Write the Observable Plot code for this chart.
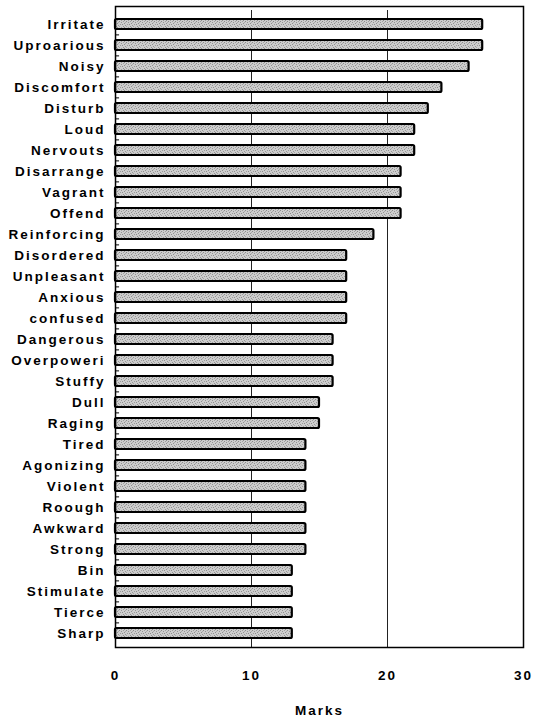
<!DOCTYPE html>
<html>
<head>
<meta charset="utf-8">
<script src="https://cdn.jsdelivr.net/npm/d3@7"></script>
<script src="https://cdn.jsdelivr.net/npm/@observablehq/plot@0.6"></script>
<style>
  html, body { margin: 0; padding: 0; background: #fff; }
  #chart svg { display: block; }
</style>
</head>
<body>
<div id="chart"></div>
<script>
const categories = ["Irritate","Uproarious","Noisy","Discomfort","Disturb","Loud","Nervouts","Disarrange","Vagrant","Offend","Reinforcing","Disordered","Unpleasant","Anxious","confused","Dangerous","Overpoweri","Stuffy","Dull","Raging","Tired","Agonizing","Violent","Roough","Awkward","Strong","Bin","Stimulate","Tierce","Sharp"];
const marks = [27,27,26,24,23,22,22,21,21,21,19,17,17,17,17,16,16,16,15,15,14,14,14,14,14,14,13,13,13,13];
const xTicks = [0,10,20,30];
const gridValues = [10,20];

const data = categories.map((c, i) => ({category: c, marks: marks[i]}));

const W = 533, H = 718, mTop = 10, mBottom = 71, mLeft = 115, mRight = 10;
const step = (H - mTop - mBottom) / categories.length;

const chart = Plot.plot({
  width: W,
  height: H,
  marginTop: mTop,
  marginBottom: mBottom,
  marginLeft: mLeft,
  marginRight: mRight,
  style: {fontFamily: "'Liberation Sans', Arial, sans-serif", fontSize: "13.5px", fontWeight: "bold", color: "#000", background: "#fff"},
  x: {domain: [0, 30], ticks: xTicks, tickSize: 0, tickPadding: 23, label: "Marks", labelAnchor: "center", labelOffset: 67, labelArrow: "none"},
  y: {domain: categories, paddingInner: 0.53, paddingOuter: 0.265, tickSize: 0, tickPadding: 10, label: null},
  marks: [
    Plot.ruleX(gridValues, {stroke: "#222", strokeWidth: 1}),
    Plot.ruleY(categories.slice(1), {y: d => d, x1: 0, x2: 0.3, dy: -step / 2, stroke: "#000", strokeWidth: 1}),
    Plot.barX(data, {y: "category", x: "marks", fill: "url(#stipple)", stroke: "#000", strokeWidth: 2.2, rx: 1.5}),
    Plot.frame({stroke: "#000", strokeWidth: 1.5, insetTop: -4})
  ]
});

// stippled grey fill used by the bars
const defs = document.createElementNS("http://www.w3.org/2000/svg", "defs");
defs.innerHTML = `<pattern id="stipple" width="7" height="7" patternUnits="userSpaceOnUse">
  <rect width="7" height="7" fill="#cdcdcd"/>
  <rect x="0" y="0" width="1" height="1" fill="#8c8c8c"/>
  <rect x="4" y="0" width="1" height="1" fill="#a0a0a0"/>
  <rect x="2" y="1" width="1" height="1" fill="#949494"/>
  <rect x="6" y="1" width="1" height="1" fill="#aaaaaa"/>
  <rect x="5" y="2" width="1" height="1" fill="#909090"/>
  <rect x="1" y="3" width="1" height="1" fill="#9c9c9c"/>
  <rect x="3" y="3" width="1" height="1" fill="#8e8e8e"/>
  <rect x="6" y="4" width="1" height="1" fill="#989898"/>
  <rect x="0" y="5" width="1" height="1" fill="#a4a4a4"/>
  <rect x="4" y="5" width="1" height="1" fill="#929292"/>
  <rect x="2" y="6" width="1" height="1" fill="#9e9e9e"/>
  <rect x="5" y="6" width="1" height="1" fill="#8f8f8f"/>
</pattern>`;
chart.insertBefore(defs, chart.firstChild);

chart.querySelectorAll("text").forEach(t => t.style.letterSpacing = "2px");
document.getElementById("chart").appendChild(chart);
</script>
</body>
</html>
